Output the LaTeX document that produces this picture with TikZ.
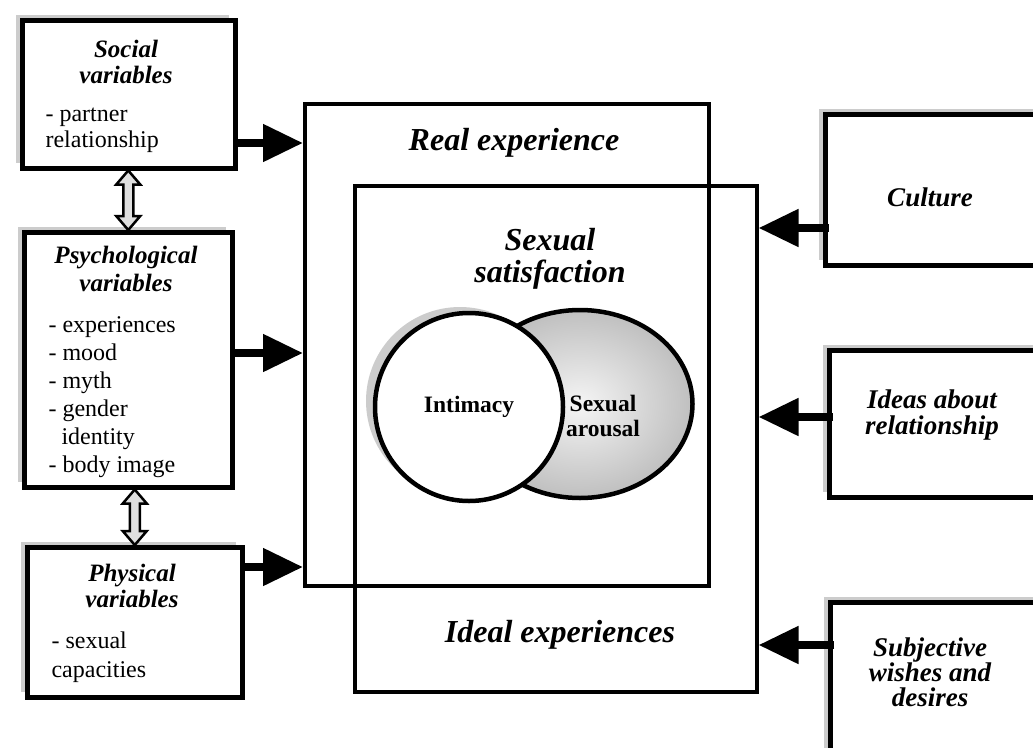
\documentclass[tikz,border=0pt]{standalone}
\usepackage{fontspec}
\setmainfont{Liberation Serif}
\usetikzlibrary{calc,arrows.meta,shadows,shapes.geometric}

\newcommand{\bothways}[2]{\draw[twoway] (#2.north |- #1.south) -- ++(12,14) -- ++(-7,0) -- ($(#2.north)+(5,-14)$) -- ++(7,0) -- (#2.north) -- ++(-12,-14) -- ++(7,0) -- ($(#2.north |- #1.south)+(-5,14)$) -- ++(-7,0) -- cycle;}

\begin{document}
\begin{tikzpicture}[x=1pt,y=-1pt,
  varbox/.style={draw,line width=4.5pt,fill=white,anchor=north west,inner sep=0pt,
    drop shadow={shadow xshift=-6pt,shadow yshift=5pt,fill=gray!40,opacity=1}},
  bigbox/.style={draw,line width=3.5pt,anchor=north west,inner sep=0pt},
  push/.style={line width=8pt,-{Triangle[length=40pt,width=36pt]}},
  twoway/.style={line width=2.5pt,fill=gray!25,line join=miter},
  ttl/.style={font=\fontsize{25}{26}\selectfont\bfseries\itshape,align=center},
  big/.style={font=\fontsize{32}{32}\selectfont\bfseries\itshape,align=center},
  item/.style={font=\fontsize{24}{28}\selectfont,align=left,anchor=west}]
\useasboundingbox (0,0) rectangle (1033,747);
\clip (0,0) rectangle (1033,747);

\node[varbox,minimum width=213pt,minimum height=148pt] (social) at (20,18) {};
\node[varbox,minimum width=208pt,minimum height=255pt] (psych) at (22,230) {};
\node[varbox,minimum width=215pt,minimum height=150pt] (phys) at (25,545) {};
\node[ttl] (socialttl) at (126,62) {Social\\variables};
\node[item,font=\fontsize{24}{26}\selectfont] (socialitems) at (42,130) {- partner\\relationship};
\node[ttl,font=\fontsize{25}{28}\selectfont\bfseries\itshape] (psychttl) at (126,269) {Psychological\\variables};
\node[item] (psychitems) at (45,397) {- experiences\\- mood\\- myth\\- gender\\\hspace*{13pt}identity\\- body image};
\node[ttl] (physttl) at (132,586) {Physical\\variables};
\node[item,font=\fontsize{24}{29}\selectfont] (physitems) at (48,657) {- sexual\\capacities};
\bothways{social}{psych}
\bothways{psych}{phys}

\node[bigbox,minimum width=404pt,minimum height=482pt] (real) at (303,102) {};
\node[bigbox,minimum width=402pt,minimum height=506pt] (ideal) at (353,184) {};
\node[big] (realttl) at (514,143) {Real experience};
\node[big] (satisfaction) at (550,259) {Sexual\\satisfaction};
\node[big] (idealttl) at (560,635) {Ideal experiences};

\node[ellipse,draw,line width=4.5pt,minimum width=225pt,minimum height=188pt,
  inner color=gray!8,outer color=gray!50] (arousal) at (580,404) {};
\node[font=\fontsize{23.5}{25}\selectfont\bfseries,align=center] (arousaltxt) at (603,416) {Sexual\\arousal};
\node[circle,draw,line width=4.5pt,fill=white,minimum size=188pt,inner sep=0pt,
  drop shadow={shadow xshift=-9pt,shadow yshift=6pt,fill=gray!40,opacity=1},
  font=\fontsize{23.5}{24}\selectfont\bfseries] (intimacy) at (469,407) {Intimacy};

\node[varbox,minimum width=250pt,minimum height=151pt] (culture) at (823,112) {};
\node[varbox,minimum width=250pt,minimum height=147pt] (ideas) at (827,348) {};
\node[varbox,minimum width=250pt,minimum height=200pt] (wishes) at (828,600) {};
\node[ttl,font=\fontsize{27}{26}\selectfont\bfseries\itshape] (culturettl) at (930,197) {Culture};
\node[ttl,font=\fontsize{27}{26}\selectfont\bfseries\itshape] (ideasttl) at (932,415) {Ideas about\\relationship};
\node[ttl,font=\fontsize{27}{25}\selectfont\bfseries\itshape] (wishesttl) at (930,672) {Subjective\\wishes and\\desires};

\draw[push] (social.east |- 0,143) -- (real.west |- 0,143);
\draw[push] (psych.east |- 0,353) -- (real.west |- 0,353);
\draw[push] (phys.east |- 0,567) -- (real.west |- 0,567);
\draw[push] ([xshift=6pt]culture.west |- 0,228) -- (ideal.east |- 0,228);
\draw[push] ([xshift=6pt]ideas.west |- 0,417) -- (ideal.east |- 0,417);
\draw[push] ([xshift=6pt]wishes.west |- 0,645) -- (ideal.east |- 0,645);
\end{tikzpicture}
\end{document}
